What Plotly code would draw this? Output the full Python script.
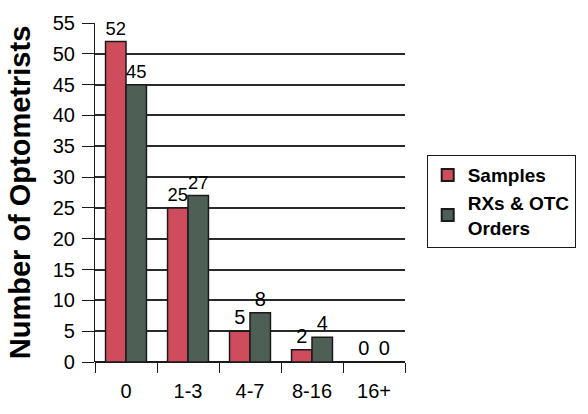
import plotly.graph_objects as go

categories = ["0", "1-3", "4-7", "8-16", "16+"]
samples = [52, 25, 5, 2, 0]
rx_otc = [45, 27, 8, 4, 0]
y_ticks = list(range(0, 56, 5))

RED = "#cf4c5c"
GREEN = "#4e5f55"
DARK = "#1a1a1a"
FONT = "Liberation Sans, Arial"

fig = go.Figure()
fig.add_trace(go.Bar(
    x=categories, y=samples, name="Samples",
    marker=dict(color=RED, line=dict(color=DARK, width=1.5)),
    text=[str(v) for v in samples], textposition="outside",
    textfont=dict(family=FONT, size=20, color="black"),
    cliponaxis=False,
))
fig.add_trace(go.Bar(
    x=categories, y=rx_otc, name="RXs & OTC<br>Orders",
    marker=dict(color=GREEN, line=dict(color=DARK, width=1.5)),
    text=[str(v) for v in rx_otc], textposition="outside",
    textfont=dict(family=FONT, size=20, color="black"),
    cliponaxis=False,
))

fig.update_layout(
    width=588, height=414,
    margin=dict(l=95, r=181, t=14, b=52),
    paper_bgcolor="white", plot_bgcolor="white",
    barmode="group", bargap=0.34, bargroupgap=0,
    font=dict(family=FONT, color="black"),
    showlegend=True,
    legend=dict(
        x=1.07, y=0.61, xanchor="left", yanchor="top",
        bordercolor=DARK, borderwidth=1, bgcolor="white",
        font=dict(family=FONT, size=19, color="black", weight="bold"),
        tracegroupgap=10, itemsizing="constant",
    ),
    xaxis=dict(
        type="category", showgrid=False,
        ticks="outside", tickson="boundaries", ticklen=10, tickwidth=1.2, tickcolor=DARK,
        tickfont=dict(size=20), ticklabelstandoff=15,
        showline=False, zeroline=False,
    ),
    yaxis=dict(
        range=[0, 55], tickvals=y_ticks,
        showgrid=True, gridcolor="#2a2a2a", gridwidth=1.5,
        zeroline=True, zerolinecolor=DARK, zerolinewidth=1.5,
        showline=True, linecolor=DARK, linewidth=1.2,
        ticks="outside", ticklen=12, tickwidth=1.2, tickcolor=DARK,
        tickfont=dict(size=20), ticklabelstandoff=3,
        title=dict(text="Number of Optometrists", font=dict(size=29, weight="bold"), standoff=13),
    ),
)

fig.write_html("out.html")
